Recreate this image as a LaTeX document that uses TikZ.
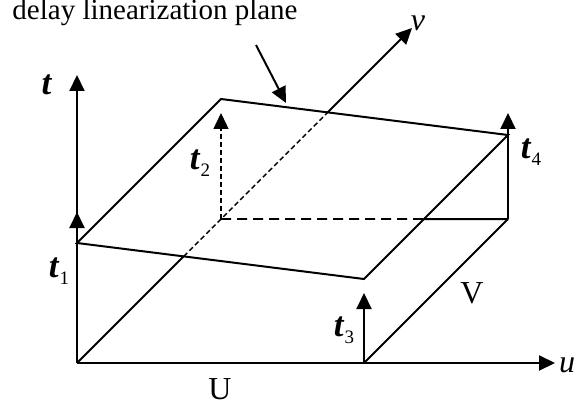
\documentclass[tikz,border=0pt]{standalone}
\usepackage{fontspec}
\setmainfont{Liberation Serif}
\usetikzlibrary{arrows.meta}
\newcommand{\tlab}[1]{{\fontsize{17.5}{18}\selectfont\textbf{\textit{t}}}\raisebox{-0.5ex}{\fontsize{9.5}{10}\selectfont #1}}

\begin{document}
\begin{tikzpicture}[x=0.5pt,y=-0.5pt,line width=1pt,
  axis/.style={-{Triangle[length=8pt,width=7.5pt]}},
  lab/.style={inner sep=0pt,font=\fontsize{16}{18}\selectfont},
  fine/.style={line width=0.7pt,dash pattern=on 2.5pt off 1.5pt},
  back/.style={line width=0.8pt,dash pattern=on 5pt off 3pt}]
\useasboundingbox (0,0) rectangle (576,411);
% corners of the box
\coordinate (O) at (77,363);
\coordinate (A) at (364,363);
\coordinate (B) at (508,219);
\coordinate (C) at (221,219);
% corners of the plane
\coordinate (P1) at (77,243);
\coordinate (P2) at (221,99);
\coordinate (P3) at (364,279);
\coordinate (P4) at (508,135);
% axis ends and arrow tips
\coordinate (uend) at (555,363);
\coordinate (tend) at (77,75);
\coordinate (vend) at (412,28);
\coordinate (t1tip) at (77,212);
\coordinate (t2tip) at (221,113);
\coordinate (t3tip) at (364,293);
\coordinate (t4tip) at (508,113);
\coordinate (vfront) at (intersection of O--vend and P1--P3);
\coordinate (vback) at (intersection of O--vend and P2--P4);
\coordinate (cross) at (intersection of C--B and P3--P4);
% axes
\draw[axis] (O) -- (uend);
\draw[axis] (O) -- (tend);
\draw (O) -- (vfront);
\draw[fine] (vfront) -- (vback);
\draw[axis] (vback) -- (vend);
% box
\draw (A) -- (B);
\draw[back] (C) -- (cross);
\draw (cross) -- (B);
\draw (P1) -- (P2) -- (P4) -- (P3) -- cycle;
% delays
\foreach \a/\b in {O/t1tip,A/t3tip,B/t4tip} \draw[axis] (\a) -- (\b);
\draw[fine,axis] (C) -- (t2tip);
% labels
\node[lab,anchor=base,font=\fontsize{14.5}{16}\selectfont] (title) at (155,20) {delay linearization plane};
\coordinate (tstart) at (256,45);
\coordinate (ttip) at (286,103);
\draw[axis] (tstart) -- (ttip);
\node[lab] (tlabel) at (47,85) {\fontsize{17.5}{18}\selectfont\textbf{\textit{t}}};
\node[lab] (l1) at (59,271) {\tlab{1}};
\node[lab] (l2) at (200,163) {\tlab{2}};
\node[lab] (l3) at (344,330) {\tlab{3}};
\node[lab] (l4) at (531,152) {\tlab{4}};
\node[lab] (ulab) at (220,389) {U};
\node[lab] (vlab) at (472,293) {V};
\node[lab] (u) at (567,365) {\textit{u}};
\node[lab] (v) at (418,23) {\textit{v}};
\end{tikzpicture}
\end{document}
